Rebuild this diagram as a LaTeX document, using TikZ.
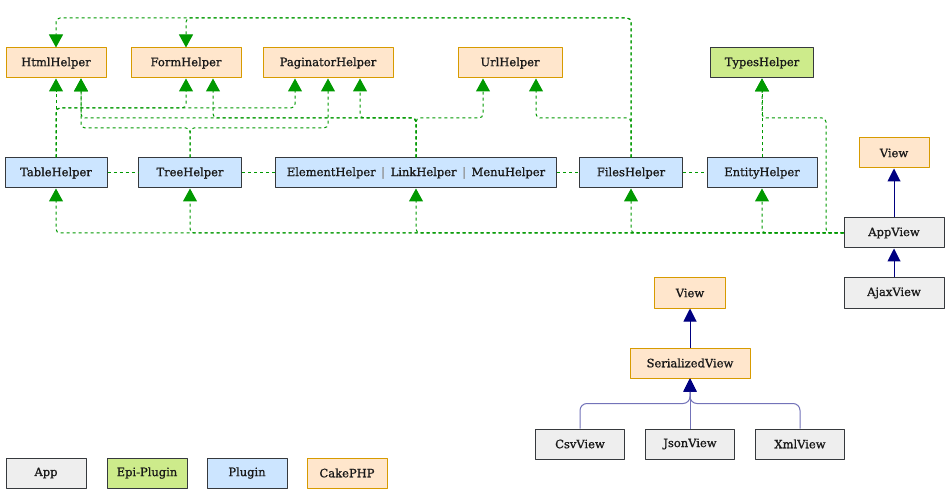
\documentclass[tikz,border=0pt]{standalone}
\usepackage{fontspec}
\setmainfont{DejaVu Serif}
\newfontfamily\boxfont{DejaVu Serif}[FakeBold=1]
\usetikzlibrary{arrows.meta}
\definecolor{appfill}{HTML}{EEEEEE}
\definecolor{epifill}{HTML}{CDEB8B}
\definecolor{plugfill}{HTML}{CCE5FF}
\definecolor{cakefill}{HTML}{FFE6CC}
\definecolor{cakeline}{HTML}{D79B00}
\definecolor{boxline}{HTML}{36393D}
\definecolor{usegreen}{HTML}{009900}
\definecolor{extblue}{HTML}{000080}
\begin{document}
\begin{tikzpicture}[x=1pt, y=-1pt, line join=round,
  box/.style={draw=boxline, line width=1pt, minimum height=30pt, inner sep=0pt,
    font=\boxfont\fontsize{11.5}{13}\selectfont, text=black!90},
  app/.style={box, fill=appfill},
  epi/.style={box, fill=epifill},
  plug/.style={box, fill=plugfill},
  cake/.style={box, fill=cakefill, draw=cakeline},
  uses/.style={draw=usegreen, line width=1pt, dash pattern=on 3pt off 3pt,
    rounded corners=4pt, -{Triangle[width=14pt,length=13pt]}},
  peer/.style={draw=usegreen, line width=1pt, dash pattern=on 3pt off 3pt},
  ext/.style={draw=extblue, line width=1pt, rounded corners=7pt,
    -{Triangle[width=13pt,length=13pt,color=extblue]}}]
  \useasboundingbox[fill=white] (0,0) rectangle (950,494);

  \node[cake, minimum width=100pt] (HtmlHelper) at (56,63) {HtmlHelper};
  \node[cake, minimum width=110pt] (FormHelper) at (186,63) {FormHelper};
  \node[cake, minimum width=130pt] (PaginatorHelper) at (328,63) {PaginatorHelper};
  \node[cake, minimum width=104pt] (UrlHelper) at (510,63) {UrlHelper};
  \node[epi, minimum width=103pt] (TypesHelper) at (762,63) {TypesHelper};

  \node[plug, minimum width=102pt] (TableHelper) at (56,173) {TableHelper};
  \node[plug, minimum width=103pt] (TreeHelper) at (190,173) {TreeHelper};
  \node[plug, minimum width=281pt] (ElementHelper) at (416,173)
    {ElementHelper {\color{black!45}\,|\,} LinkHelper {\color{black!45}\,|\,} MenuHelper};
  \node[plug, minimum width=103pt] (FilesHelper) at (631,173) {FilesHelper};
  \node[plug, minimum width=110pt] (EntityHelper) at (762,173) {EntityHelper};

  \node[cake, minimum width=70pt] (View) at (894,153) {View};
  \node[app, minimum width=100pt] (AppView) at (894,233) {AppView};
  \node[app, minimum width=100pt] (AjaxView) at (894,293) {AjaxView};

  \node[cake, minimum width=71pt] (BaseView) at (690,293) {View};
  \node[cake, minimum width=120pt] (SerializedView) at (690,363) {SerializedView};
  \node[app, minimum width=89pt] (CsvView) at (580,444) {CsvView};
  \node[app, minimum width=89pt] (JsonView) at (690,444) {JsonView};
  \node[app, minimum width=89pt] (XmlView) at (800,444) {XmlView};

  \node[app, minimum width=80pt] (LegendApp) at (46,473) {App};
  \node[epi, minimum width=80pt] (LegendEpi) at (147,473) {Epi-Plugin};
  \node[plug, minimum width=80pt] (LegendPlugin) at (247,473) {Plugin};
  \node[cake, minimum width=80pt] (LegendCake) at (347,473) {CakePHP};

  \coordinate (topBus) at (0,18);
  \coordinate (busA) at (0,108);
  \coordinate (busB) at (0,118);
  \coordinate (busC) at (0,128);
  \coordinate (appBend) at (826,118);
  \coordinate (HtmlIn) at ([xshift=25pt]HtmlHelper.south);
  \coordinate (FormIn) at ([xshift=27pt]FormHelper.south);
  \coordinate (PagIn1) at ([xshift=-33pt]PaginatorHelper.south);
  \coordinate (PagIn3) at ([xshift=32pt]PaginatorHelper.south);
  \coordinate (UrlIn1) at ([xshift=-27pt]UrlHelper.south);
  \coordinate (UrlIn2) at ([xshift=26pt]UrlHelper.south);

  \draw[peer] (TableHelper) -- (TreeHelper);
  \draw[peer] (TreeHelper) -- (ElementHelper);
  \draw[peer] (ElementHelper) -- (FilesHelper);
  \draw[peer] (FilesHelper) -- (EntityHelper);

  \draw[uses] (TableHelper) -- (HtmlHelper);
  \draw[uses] (TableHelper.north) |- (FormHelper.south |- busA) -- (FormHelper.south);
  \draw[uses] (TableHelper.north) |- (PagIn1 |- busA) -- (PagIn1);

  \draw[uses] (TreeHelper.north) |- (HtmlIn |- busC) -- (HtmlIn);
  \draw[uses] (TreeHelper.north) |- (PaginatorHelper.south |- busC) -- (PaginatorHelper.south);

  \draw[uses] (ElementHelper.north) |- (HtmlIn |- busB) -- (HtmlIn);
  \draw[uses] (ElementHelper.north) |- (FormIn |- busB) -- (FormIn);
  \draw[uses] (ElementHelper.north) |- (PagIn3 |- busB) -- (PagIn3);
  \draw[uses] (ElementHelper.north) |- (UrlIn1 |- busB) -- (UrlIn1);

  \draw[uses] (FilesHelper.north) |- (UrlIn2 |- busB) -- (UrlIn2);
  \draw[uses] (FilesHelper.north) |- (FormHelper.north |- topBus) -- (FormHelper.north);
  \draw[uses] (FilesHelper.north) |- (HtmlHelper.north |- topBus) -- (HtmlHelper.north);

  \draw[uses] (EntityHelper) -- (TypesHelper);
  \draw[uses] (AppView.west) -| (appBend) -| (TypesHelper.south);
  \foreach \n in {TableHelper,TreeHelper,ElementHelper,FilesHelper,EntityHelper}
    \draw[uses] (AppView.west) -| (\n.south);

  \draw[ext] (AppView) -- (View);
  \draw[ext] (AjaxView) -- (AppView);
  \draw[ext] (SerializedView) -- (BaseView);
  \draw[ext, draw=extblue!55] (CsvView.north) |- ([yshift=-25pt]SerializedView.south) -- (SerializedView.south);
  \draw[ext, draw=extblue!55] (JsonView) -- (SerializedView);
  \draw[ext, draw=extblue!55] (XmlView.north) |- ([yshift=-25pt]SerializedView.south) -- (SerializedView.south);
\end{tikzpicture}
\end{document}
